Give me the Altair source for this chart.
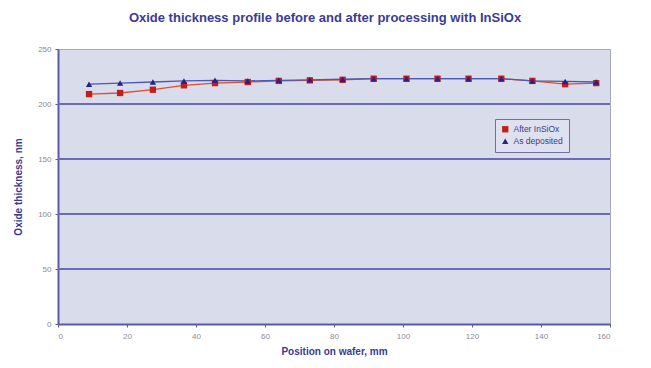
import altair as alt
import pandas as pd

positions = [9, 18, 27.5, 36.5, 45.5, 55, 64, 73, 82.5, 91.5, 101, 110, 119, 128.5, 137.5, 147, 156]
after_insiox = [209, 210, 213, 217, 219, 220, 221, 221.5, 222, 223, 223, 223, 223, 223, 221, 218, 219]
as_deposited = [218, 219, 220, 221, 221.5, 221, 221.5, 222, 222.5, 223, 223, 223, 223, 223, 221, 220.5, 220]
series_names = ["After InSiOx", "As deposited"]
line_colors = ["#e0502c", "#4a58b8"]
marker_colors = ["#c21e1c", "#23238a"]
grid_values = [50, 100, 150, 200]
x_ticks = [0, 20, 40, 60, 80, 100, 120, 140, 160]
y_ticks = [0, 50, 100, 150, 200, 250]

rows = []
for name, vals in zip(series_names, [after_insiox, as_deposited]):
    for p, v in zip(positions, vals):
        rows.append({"pos": p, "val": v, "series": name})
df = pd.DataFrame(rows)
grid_df = pd.DataFrame({"g": grid_values})

x_enc = alt.X("pos:Q", scale=alt.Scale(domain=[0, 160], nice=False),
              axis=alt.Axis(values=x_ticks, title="Position on wafer, mm", grid=False,
                            labelFontSize=8, labelColor="#8a8a96", labelPadding=5,
                            tickSize=3, tickColor="#5a5aa8", domainColor="#5a5aa8", domainWidth=2,
                            titleFontSize=10, titleFontWeight="bold", titleColor="#3a3a90",
                            titlePadding=6, titleFont="Liberation Sans", labelFont="Liberation Sans"))
y_enc = alt.Y("val:Q", scale=alt.Scale(domain=[0, 250], nice=False),
              axis=alt.Axis(values=y_ticks, title="Oxide thickness, nm", grid=False,
                            labelFontSize=8, labelColor="#8a8a96", labelPadding=4,
                            tickSize=3, tickColor="#5a5aa8", domainColor="#5a5aa8", domainWidth=2,
                            titleFontSize=10, titleFontWeight="bold", titleColor="#3a3a90",
                            titlePadding=14, titleFont="Liberation Sans", labelFont="Liberation Sans"))

grid = alt.Chart(grid_df).mark_rule(color="#6a6ab6", strokeWidth=2).encode(
    y=alt.Y("g:Q", scale=alt.Scale(domain=[0, 250], nice=False))
)

line_layers = []
for name, col in zip(series_names, line_colors):
    line_layers.append(
        alt.Chart(df).transform_filter(alt.datum.series == name)
        .mark_line(strokeWidth=1.3, color=col)
        .encode(x=x_enc, y=y_enc, order=alt.Order("pos:Q"))
    )

points = alt.Chart(df).mark_point(filled=True, size=40, opacity=1).encode(
    x=alt.X("pos:Q"), y=alt.Y("val:Q"),
    color=alt.Color("series:N", scale=alt.Scale(domain=series_names, range=marker_colors),
                    legend=alt.Legend(title=None, orient="none", legendX=437, legendY=70,
                                      labelFontSize=8.5, labelColor="#3a3a90", symbolSize=40,
                                      strokeColor="#7070a8", fillColor="#dfe2ee", padding=6,
                                      rowPadding=3, labelFont="Liberation Sans", labelLimit=200)),
    shape=alt.Shape("series:N", scale=alt.Scale(domain=series_names, range=["square", "triangle-up"])),
)

chart = alt.layer(grid, *line_layers, points).properties(
    width=552, height=275,
    autosize=alt.AutoSizeParams(type="none"),
    padding={"left": 58, "top": 49, "right": 41, "bottom": 44},
    background="white",
    title=alt.Title("Oxide thickness profile before and after processing with InSiOx",
                    fontSize=13, fontWeight="bold", color="#3b3b98", font="Liberation Sans",
                    anchor="middle", dx=-9, offset=20),
).configure_view(fill="#d9dcea", stroke="#a8a8ba", strokeWidth=1)

chart.save("out.html", embed_options={"renderer": "svg", "actions": False})
